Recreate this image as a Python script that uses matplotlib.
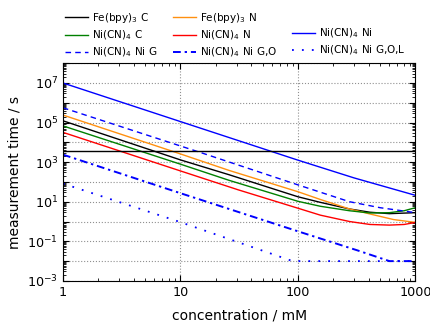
import numpy as np
import matplotlib
matplotlib.use("Agg")
import matplotlib.pyplot as plt
from matplotlib.lines import Line2D
from matplotlib.ticker import LogLocator, NullFormatter

# values (concentration in mM, time in s)
c_fe_c = [1, 10, 26, 100, 155, 275, 410, 600, 1000]
t_fe_c = [1.23e5, 1.3e3, 230, 17.8, 9.3, 4.3, 2.95, 2.5, 2.8]

c_fe_n = [1, 10, 26, 100, 155, 275, 410, 650, 1000]
t_fe_n = [2.4e5, 2.6e3, 380, 32, 13, 4.3, 2.4, 1.26, 0.9]

c_ni_c = [1, 10, 26, 100, 155, 275, 410, 600, 800, 1000]
t_ni_c = [6.8e4, 790, 120, 10.5, 5.9, 3.5, 2.7, 2.8, 3.5, 5.0]

c_ni_n = [1, 10, 31, 100, 155, 230, 275, 410, 600, 800, 1000]
t_ni_n = [3.2e4, 360, 40, 4.7, 2.1, 1.26, 1.0, 0.71, 0.66, 0.71, 0.9]

c_ni = [1, 10, 100, 300, 1000]
t_ni = [1e7, 1.12e5, 1.26e3, 160, 21]

c_ni_g = [1, 15, 100, 275, 500, 1000]
t_ni_g = [5.6e5, 3.0e3, 71, 10, 5.0, 2.8]

c_ni_go = [1, 10, 100, 320, 600, 1000]
t_ni_go = [2.4e3, 27, 0.32, 0.035, 0.01, 0.01]

c_ni_gol = [1, 10, 90, 1000]
t_ni_gol = [83, 0.93, 0.01, 0.01]

one_hour = 3600

fig = plt.figure(figsize=(4.31, 3.24), dpi=100)
ax = fig.add_axes([0.146, 0.133, 0.818, 0.672])

lw = 1.0
l_fe_c, = ax.plot(c_fe_c, t_fe_c, color="k", lw=lw, label=r"Fe(bpy)$_3$ C")
l_fe_n, = ax.plot(c_fe_n, t_fe_n, color="#ff9010", lw=lw, label=r"Fe(bpy)$_3$ N")
l_ni_c, = ax.plot(c_ni_c, t_ni_c, color="g", lw=lw, label=r"Ni(CN)$_4$ C")
l_ni_n, = ax.plot(c_ni_n, t_ni_n, color="r", lw=lw, label=r"Ni(CN)$_4$ N")
l_ni, = ax.plot(c_ni, t_ni, color="b", lw=lw, label=r"Ni(CN)$_4$ Ni")
l_ni_g, = ax.plot(c_ni_g, t_ni_g, color="b", lw=lw, dashes=(4, 3), label=r"Ni(CN)$_4$ Ni G")
l_ni_go, = ax.plot(c_ni_go, t_ni_go, color="b", lw=lw * 1.4, dashes=(4, 2, 1.2, 2),
                   label=r"Ni(CN)$_4$ Ni G,O")
l_ni_gol, = ax.plot(c_ni_gol, t_ni_gol, color="b", lw=lw * 1.3, dashes=(1, 4.5),
                    label=r"Ni(CN)$_4$ Ni G,O,L")
ax.axhline(one_hour, color="k", lw=1.0)

ax.set_xscale("log")
ax.set_yscale("log")
ax.set_xlim(1, 1000)
ax.set_ylim(1e-3, 1e8)

ax.set_xticks([1, 10, 100, 1000])
ax.set_xticklabels(["1", "10", "100", "1000"])
ax.xaxis.set_minor_locator(LogLocator(base=10, subs=np.arange(2, 10)))
ax.xaxis.set_minor_formatter(NullFormatter())

exps = np.arange(-3, 9)
ax.set_yticks(10.0 ** exps)
ax.set_yticklabels([r"$10^{%d}$" % e if e % 2 else "" for e in exps])
ax.yaxis.set_minor_locator(LogLocator(base=10, subs=np.arange(2, 10), numticks=30))
ax.yaxis.set_minor_formatter(NullFormatter())

ax.tick_params(which="both", direction="in", top=True, right=True, labelsize=9.2)
ax.tick_params(which="major", length=4, width=0.8)
ax.tick_params(which="minor", length=2, width=0.6)
ax.grid(True, which="major", color="#909090", linestyle=":", lw=0.8)

ax.set_xlabel("concentration / mM", fontsize=10, labelpad=7)
ax.set_ylabel("measurement time / s", fontsize=10)

blank = Line2D([], [], color="none", label=" ")
handles = [l_fe_c, l_ni_c, l_ni_g, l_fe_n, l_ni_n, l_ni_go, blank, l_ni, l_ni_gol]
fig.legend(handles=handles, labels=[h.get_label() for h in handles], ncol=3,
           loc="upper left", bbox_to_anchor=(0.13, 0.995), frameon=False,
           fontsize=7.5, handlelength=2.2, handletextpad=0.4,
           columnspacing=1.45, labelspacing=0.35)

fig.savefig("out.png", dpi=100)
